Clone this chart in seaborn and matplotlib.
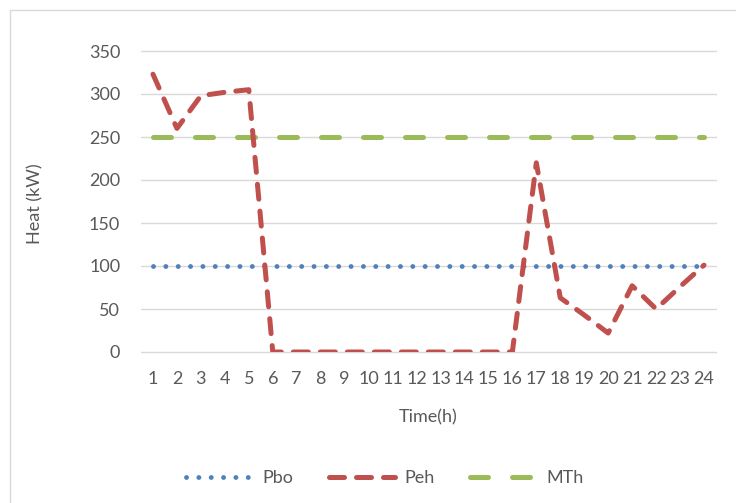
import matplotlib
matplotlib.use("Agg")
import matplotlib.pyplot as plt
from matplotlib.lines import Line2D
import pandas as pd
import seaborn as sns

# Hourly heat balance (kW)
hours = [1, 2, 3, 4, 5, 6, 7, 8, 9, 10, 11, 12,
         13, 14, 15, 16, 17, 18, 19, 20, 21, 22, 23, 24]
pbo = [100, 100, 100, 100, 100, 100, 100, 100, 100, 100, 100, 100,
       100, 100, 100, 100, 100, 100, 100, 100, 100, 100, 100, 100]
peh = [323, 260, 298, 302, 305, 0, 0, 0, 0, 0, 0, 0,
       0, 0, 0, 0, 220, 63, 43, 22, 77, 50, 76, 101]
mth = [250, 250, 250, 250, 250, 250, 250, 250, 250, 250, 250, 250,
       250, 250, 250, 250, 250, 250, 250, 250, 250, 250, 250, 250]
y_ticks = [0, 50, 100, 150, 200, 250, 300, 350]
series_names = ["Pbo", "Peh", "MTh"]

df = pd.DataFrame({"hour": hours, "Pbo": pbo, "Peh": peh, "MTh": mth})

sns.set_theme(style="white")
plt.rcParams["font.family"] = ["Lato", "DejaVu Sans"]

TEXT = "#595959"
GRID = "#D9D9D9"

styles = {
    "Pbo": dict(color="#4F81BD", linewidth=3.5, linestyle=(0, (0.01, 2.53)), zorder=3),
    "Peh": dict(color="#C0504D", linewidth=3.6, linestyle=(0, (3.0, 2.4)), zorder=5),
    "MTh": dict(color="#9BBB59", linewidth=3.6, linestyle=(0, (3.6, 4.8)), zorder=4),
}

W, H = 736, 503
fig = plt.figure(figsize=(W / 100, H / 100), dpi=100)
ax = fig.add_axes([141 / W, 1 - 352 / H, 575 / W, 301 / H])

for name in series_names:
    st = styles[name]
    sns.lineplot(data=df, x="hour", y=name, ax=ax, legend=False,
                 color=st["color"], linewidth=st["linewidth"],
                 linestyle=st["linestyle"], zorder=st["zorder"],
                 dash_capstyle="round", solid_capstyle="round")

ax.set_xlim(0.5, 24.5)
ax.set_ylim(0, 350)
ax.set_xticks(hours)
ax.set_xticklabels([str(h) for h in hours])
ax.set_yticks(y_ticks)
ax.set_xlabel("")
ax.set_ylabel("")
for s in ax.spines.values():
    s.set_visible(False)
ax.grid(axis="y", color=GRID, linewidth=1.0)
ax.grid(axis="x", visible=False)
for gl in ax.get_ygridlines():
    gl.set_clip_on(False)
ax.tick_params(axis="both", length=0, labelsize=13, labelcolor=TEXT)
ax.tick_params(axis="x", pad=14)
ax.tick_params(axis="y", pad=15)

fig.text(35 / W, 1 - 204 / H, "Heat (kW)", rotation=90, ha="center",
         va="center", fontsize=13, color=TEXT)
fig.text(428.5 / W, 1 - 422 / H, "Time(h)", ha="center", va="baseline",
         fontsize=13, color=TEXT)

handles = [Line2D([0], [0], color=styles[n]["color"],
                  linewidth=styles[n]["linewidth"],
                  linestyle=styles[n]["linestyle"],
                  dash_capstyle="round", solid_capstyle="round")
           for n in series_names]
fig.legend(handles, series_names, loc="center",
           bbox_to_anchor=(385 / W, 1 - 478 / H), ncol=3, frameon=False,
           handlelength=3.67, handletextpad=0.55, columnspacing=1.94,
           fontsize=13, labelcolor=TEXT)

# chart frame
fig.add_artist(Line2D([10 / W, 1], [1 - 10 / H, 1 - 10 / H],
                      transform=fig.transFigure, color=GRID, linewidth=1.0))
fig.add_artist(Line2D([10 / W, 10 / W], [0, 1 - 10 / H],
                      transform=fig.transFigure, color=GRID, linewidth=1.0))

fig.savefig("out.png", dpi=100)
